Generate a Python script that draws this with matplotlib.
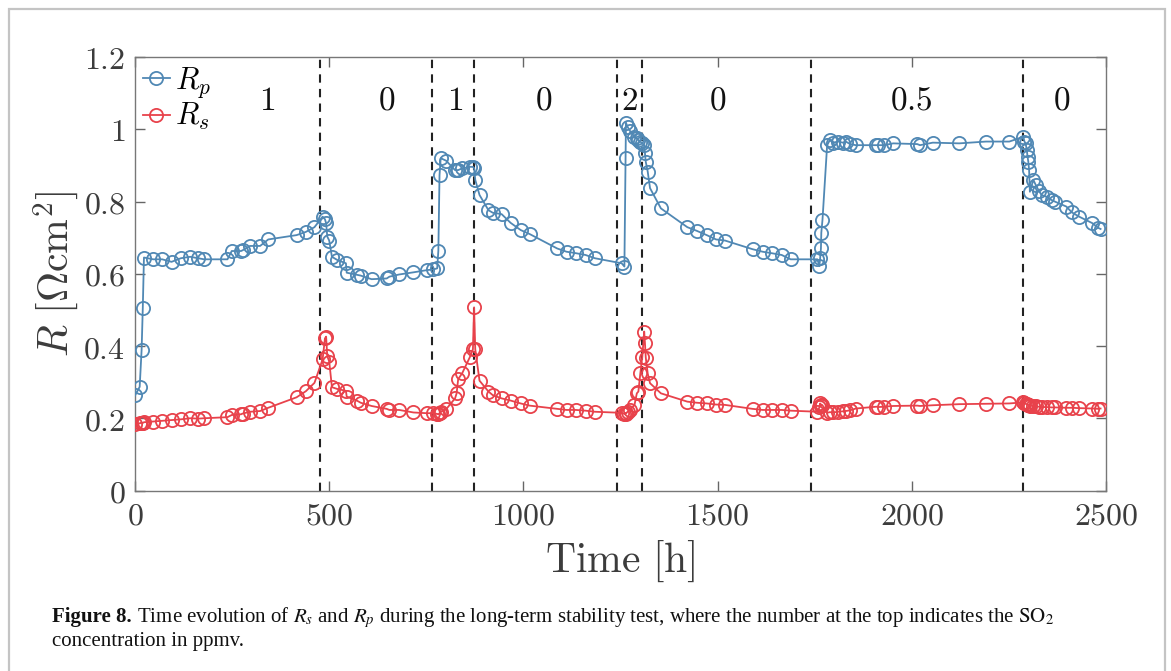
import matplotlib
matplotlib.use('Agg')
import matplotlib.pyplot as plt
from matplotlib.patches import Rectangle
from matplotlib.ticker import FuncFormatter, MultipleLocator

plt.rcParams['mathtext.fontset'] = 'cm'

# time of each impedance fit [h]
time_h = [0, 12, 17, 20, 23, 47, 70, 94, 118, 142, 163, 178, 238, 249, 273, 277, 296, 322, 343,
          416, 440, 462, 483, 489, 492, 495, 500, 507, 521, 543, 545, 571, 581, 609, 648, 655,
          680, 717, 751, 768, 778, 781, 784, 787, 801, 824, 828, 832, 843, 862, 870, 873, 876,
          887, 910, 921, 944, 967, 993, 1016, 1087, 1111, 1135, 1160, 1184, 1253, 1260,
          1263, 1264, 1268, 1274, 1286, 1292, 1296, 1301, 1306, 1311, 1313, 1315, 1320, 1326,
          1354, 1422, 1446, 1472, 1496, 1519, 1590, 1616, 1639, 1665, 1688, 1757,
          1762, 1764, 1766, 1767, 1770, 1782, 1789, 1796, 1811, 1822, 1830, 1841, 1856,
          1909, 1914, 1929, 1952, 2014, 2021, 2054, 2122, 2191, 2251,
          2287, 2290, 2293, 2296, 2298, 2300, 2302, 2304, 2313, 2319, 2327, 2334, 2347,
          2360, 2368, 2398, 2412, 2431, 2465, 2480, 2486]

# polarisation resistance R_p [Ohm cm2]
r_p = [0.263, 0.287, 0.390, 0.505, 0.645, 0.640, 0.640, 0.633, 0.643, 0.647, 0.643, 0.640, 0.640, 0.663, 0.663, 0.665, 0.677, 0.677, 0.695,
       0.707, 0.716, 0.729, 0.758, 0.751, 0.740, 0.703, 0.692, 0.647, 0.638, 0.629, 0.603, 0.597, 0.595, 0.585, 0.587, 0.592,
       0.598, 0.604, 0.610, 0.612, 0.615, 0.664, 0.873, 0.920, 0.913, 0.887, 0.887, 0.887, 0.892, 0.896, 0.896, 0.893, 0.860,
       0.818, 0.776, 0.769, 0.765, 0.741, 0.721, 0.710, 0.670, 0.661, 0.657, 0.652, 0.643, 0.629, 0.620,
       0.920, 1.018, 1.007, 0.996, 0.979, 0.975, 0.970, 0.966, 0.961, 0.956, 0.933, 0.910, 0.883, 0.837,
       0.781, 0.729, 0.719, 0.707, 0.695, 0.692, 0.668, 0.661, 0.657, 0.652, 0.640, 0.640,
       0.621, 0.643, 0.670, 0.714, 0.749, 0.956, 0.970, 0.963, 0.966, 0.963, 0.966, 0.959, 0.956,
       0.956, 0.956, 0.956, 0.961, 0.959, 0.956, 0.963, 0.961, 0.966, 0.966,
       0.979, 0.966, 0.961, 0.943, 0.924, 0.910, 0.887, 0.827, 0.860, 0.846, 0.830, 0.818, 0.813,
       0.804, 0.800, 0.786, 0.770, 0.758, 0.740, 0.727, 0.724]

# ohmic resistance R_s [Ohm cm2]
r_s = [0.185, 0.186, 0.188, 0.187, 0.189, 0.191, 0.193, 0.195, 0.197, 0.200, 0.199, 0.200, 0.203, 0.209, 0.211, 0.213, 0.218, 0.220, 0.229,
       0.258, 0.275, 0.298, 0.363, 0.421, 0.426, 0.372, 0.357, 0.286, 0.281, 0.276, 0.260, 0.249, 0.243, 0.234, 0.226, 0.223,
       0.223, 0.216, 0.214, 0.214, 0.212, 0.211, 0.214, 0.218, 0.225, 0.255, 0.269, 0.308, 0.326, 0.369, 0.391, 0.507, 0.391,
       0.304, 0.274, 0.264, 0.255, 0.249, 0.241, 0.235, 0.226, 0.223, 0.223, 0.221, 0.218, 0.215, 0.212,
       0.214, 0.213, 0.218, 0.223, 0.237, 0.269, 0.274, 0.324, 0.370, 0.440, 0.407, 0.368, 0.324, 0.297,
       0.269, 0.246, 0.243, 0.241, 0.238, 0.237, 0.226, 0.223, 0.223, 0.223, 0.221, 0.218,
       0.230, 0.241, 0.234, 0.238, 0.236, 0.215, 0.217, 0.216, 0.218, 0.219, 0.220, 0.222, 0.227,
       0.232, 0.231, 0.232, 0.234, 0.235, 0.234, 0.236, 0.239, 0.240, 0.241,
       0.244, 0.242, 0.240, 0.239, 0.238, 0.237, 0.236, 0.235, 0.234, 0.233, 0.232, 0.231, 0.231,
       0.230, 0.230, 0.229, 0.229, 0.228, 0.227, 0.226, 0.227]

# SO2 switching times and the concentration of each period
switch_h = [476, 765, 874, 1242, 1305, 1740, 2285]
so2_ppmv = ['1', '0', '1', '0', '2', '0', '0.5', '0']
so2_label_x = [340, 649, 824, 1053, 1274, 1499, 2000, 2386]

blue = '#5088b4'
red = '#e8424b'
grey_txt = '#3c3c3c'

fig = plt.figure(figsize=(11.71, 6.71), dpi=100)
ax = fig.add_axes([0.1153, 0.269, 0.8292, 0.646])

for s in switch_h:
    ax.axvline(s, color='#222222', lw=1.5, ls=(0, (4, 3)), zorder=1)

ax.plot(time_h, r_p, '-o', color=blue, mfc='none', ms=9.5, mew=1.3, lw=1.3, label='$R_p$', zorder=3)
ax.plot(time_h, r_s, '-o', color=red, mfc='none', ms=9.5, mew=1.3, lw=1.3, label='$R_s$', zorder=3)

for x, lab in zip(so2_label_x, so2_ppmv):
    ax.text(x, 1.08, '$' + lab + '$', ha='center', va='center', fontsize=24, color='#111111')

ax.set_xlim(0, 2500)
ax.set_ylim(0, 1.2)
ax.xaxis.set_major_locator(MultipleLocator(500))
ax.yaxis.set_major_locator(MultipleLocator(0.2))
fmt = FuncFormatter(lambda v, p: '$%g$' % round(v, 3))
ax.xaxis.set_major_formatter(fmt)
ax.yaxis.set_major_formatter(fmt)
ax.tick_params(direction='in', length=7, width=1, top=True, right=True,
               labelsize=23, colors='#666666', labelcolor=grey_txt, pad=7)
for sp in ax.spines.values():
    sp.set_color('#777777')
    sp.set_linewidth(1)

ax.set_xlabel(r'$\mathrm{Time\ [h]}$', fontsize=30, color=grey_txt, labelpad=5)
ax.set_ylabel(r'$R\ [\Omega\mathrm{cm}^2]$', fontsize=30, color=grey_txt, labelpad=2)

leg = ax.legend(loc='upper left', frameon=False, fontsize=22, handlelength=0.9,
                handletextpad=0.15, borderaxespad=0.05, labelspacing=0.05, borderpad=0.2)

# caption under the figure
cap_size = 15
cap_y1 = 1 - 622 / 671
cap_y2 = 1 - 646 / 671
cap = fig.text(52 / 1171, cap_y1, 'Figure 8.', fontsize=cap_size, fontweight='bold',
               family='Liberation Serif', color='#111111')
cap_rest = fig.text(0, cap_y1, ' Time evolution of $R_s$ and $R_p$ during the long-term stability test, '
                    'where the number at the top indicates the $\\mathrm{SO}_2$',
                    fontsize=cap_size, family='Liberation Serif', math_fontfamily='stix', color='#111111')
fig.text(52 / 1171, cap_y2, 'concentration in ppmv.', fontsize=cap_size,
         family='Liberation Serif', color='#111111')

# figure frame
fig.patches.append(Rectangle((9 / 1171, -0.1), 1156 / 1171, 1.1 - 9 / 671, transform=fig.transFigure,
                             fill=False, edgecolor='#c4c4c4', lw=1.6))

fig.canvas.draw()
bb = cap.get_window_extent()
cap_rest.set_x(bb.x1 / fig.bbox.width)

fig.savefig('out.png', dpi=100)
